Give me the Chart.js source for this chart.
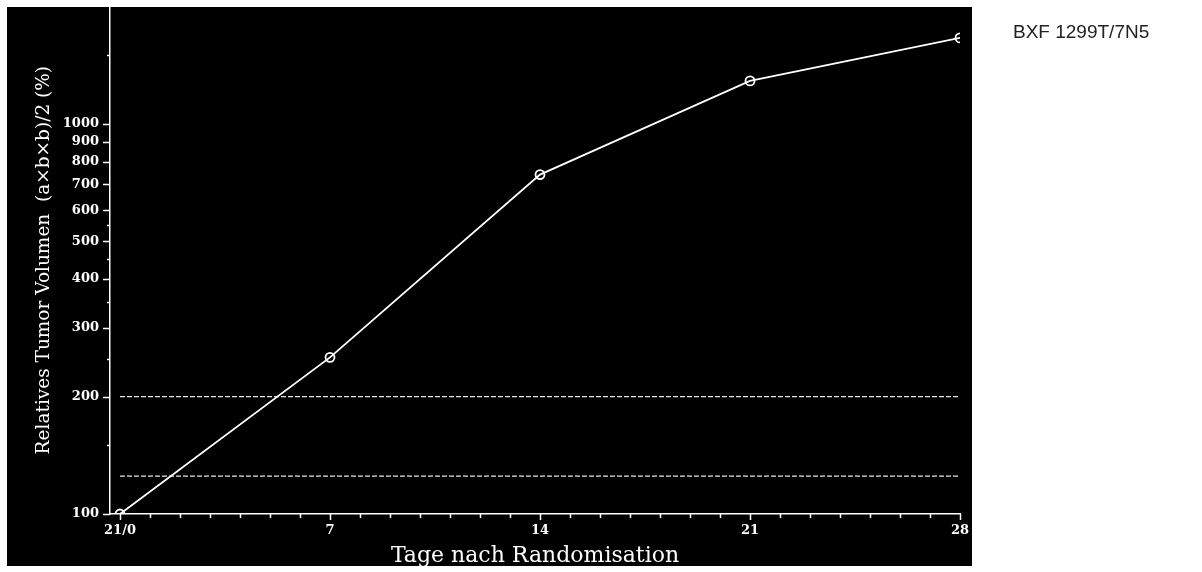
<!DOCTYPE html>
<html>
<head>
<meta charset="utf-8">
<title>BXF 1299T/7N5</title>
<script src="https://cdn.jsdelivr.net/npm/chart.js@4/dist/chart.umd.min.js"></script>
<style>
  html, body { margin: 0; padding: 0; background: #fff; }
  #wrap { position: relative; width: 1202px; height: 572px; }
  #tag {
    position: absolute; left: 1013px; top: 21px;
    font: 19px "Liberation Sans", Arial, sans-serif; color: #222;
    white-space: nowrap;
  }
</style>
</head>
<body>
<div id="wrap">
  <canvas id="c" width="1202" height="572"></canvas>
  <div id="tag">BXF 1299T/7N5</div>
</div>
<script>
// Days after randomisation and relative tumour volume (%)
const days = [0, 7, 14, 21, 28];
const tumorVolume = [100, 252, 741, 1288, 1660];

// Horizontal reference levels (%)
const refUpper = 200;
const refLower = 125;

// Axis ticks
const xTickValues = [0, 7, 14, 21, 28];
const xTickLabels = ['21/0', '7', '14', '21', '28'];
const xMinorTicks = [1,2,3,4,5,6,8,9,10,11,12,13,15,16,17,18,19,20,22,23,24,25,26,27];
const yTickValues = [100, 200, 300, 400, 500, 600, 700, 800, 900, 1000];
const yMinorTicks = [150, 250, 350, 450, 550, 1500];

const SERIF = '"DejaVu Serif", "Liberation Serif", serif';
const INK = '#ffffff';

const panelPlugin = {
  id: 'panel',
  beforeDraw(chart) {
    const ctx = chart.ctx;
    ctx.save();
    ctx.fillStyle = '#ffffff';
    ctx.fillRect(0, 0, chart.width, chart.height);
    ctx.fillStyle = '#000000';
    ctx.fillRect(7, 7, 965, 559);
    ctx.restore();
  },
  afterDraw(chart) {
    const ctx = chart.ctx;
    const xs = chart.scales.x, ys = chart.scales.y;
    const axX = chart.chartArea.left, axY = chart.chartArea.bottom;
    ctx.save();
    ctx.strokeStyle = INK;
    ctx.lineWidth = 1.5;
    ctx.beginPath();
    yTickValues.forEach(v => {
      const p = Math.round(ys.getPixelForValue(v)) + 0.5;
      ctx.moveTo(axX - 7, p); ctx.lineTo(axX, p);
    });
    yMinorTicks.forEach(v => {
      const p = Math.round(ys.getPixelForValue(v)) + 0.5;
      ctx.moveTo(axX - 3, p); ctx.lineTo(axX, p);
    });
    xTickValues.forEach(v => {
      const p = Math.round(xs.getPixelForValue(v)) + 0.5;
      ctx.moveTo(p, axY); ctx.lineTo(p, axY + 6);
    });
    xMinorTicks.forEach(v => {
      const p = Math.round(xs.getPixelForValue(v)) + 0.5;
      ctx.moveTo(p, axY); ctx.lineTo(p, axY + 4);
    });
    ctx.stroke();
    ctx.restore();
  }
};

function zeroPadding(scale) {
  scale.paddingTop = 0; scale.paddingBottom = 0;
  scale.paddingLeft = 0; scale.paddingRight = 0;
}

new Chart(document.getElementById('c'), {
  type: 'line',
  data: {
    datasets: [
      {
        label: 'Relatives Tumor Volumen',
        data: days.map((d, i) => ({ x: d, y: tumorVolume[i] })),
        borderColor: INK,
        borderWidth: 1.8,
        pointRadius: 4.5,
        pointBorderWidth: 1.8,
        pointBorderColor: INK,
        pointBackgroundColor: 'rgba(0,0,0,0)',
        tension: 0
      },
      {
        label: 'ref200',
        data: [{ x: days[0], y: refUpper }, { x: days[days.length - 1], y: refUpper }],
        borderColor: '#e6e6e6',
        borderWidth: 1.2,
        borderDash: [5, 2],
        pointRadius: 0
      },
      {
        label: 'ref125',
        data: [{ x: days[0], y: refLower }, { x: days[days.length - 1], y: refLower }],
        borderColor: '#e6e6e6',
        borderWidth: 1.2,
        borderDash: [5, 2],
        pointRadius: 0
      }
    ]
  },
  options: {
    responsive: false,
    animation: false,
    events: [],
    layout: { padding: { left: 0, right: 242, top: 5, bottom: 0 } },
    plugins: {
      legend: { display: false },
      tooltip: { enabled: false },
      title: { display: false }
    },
    scales: {
      x: {
        type: 'linear',
        min: -1 / 3,
        max: 28,
        afterBuildTicks(scale) {
          scale.ticks = xTickValues.map(v => ({ value: v }));
        },
        afterFit(scale) { scale.height = 58; zeroPadding(scale); },
        ticks: {
          autoSkip: false,
          maxRotation: 0,
          padding: 9,
          color: INK,
          font: { family: SERIF, size: 13, weight: 'bold' },
          callback(v) {
            const i = xTickValues.indexOf(v);
            return i >= 0 ? xTickLabels[i] : '';
          }
        },
        grid: { display: true, drawOnChartArea: false, drawTicks: false },
        border: { display: true, color: INK, width: 1.5 },
        title: {
          display: true,
          text: 'Tage nach Randomisation',
          color: INK,
          font: { family: SERIF, size: 22 },
          padding: { top: 0, bottom: 3 }
        }
      },
      y: {
        type: 'logarithmic',
        min: 100,
        max: 2000,
        afterBuildTicks(scale) {
          scale.ticks = yTickValues.concat(yMinorTicks).map(v => ({ value: v }));
        },
        afterFit(scale) { scale.width = 110; zeroPadding(scale); },
        ticks: {
          autoSkip: false,
          padding: 11,
          color: INK,
          font: { family: SERIF, size: 13, weight: 'bold' },
          callback(v) {
            return yTickValues.includes(v) ? String(v) : '';
          }
        },
        grid: { display: true, drawOnChartArea: false, drawTicks: false },
        border: { display: true, color: INK, width: 1.5 },
        title: {
          display: true,
          text: 'Relatives Tumor Volumen  (a×b×b)/2 (%)',
          color: INK,
          font: { family: SERIF, size: 18.5 },
          padding: { top: 33, bottom: 0 }
        }
      }
    }
  },
  plugins: [panelPlugin]
});
</script>
</body>
</html>
